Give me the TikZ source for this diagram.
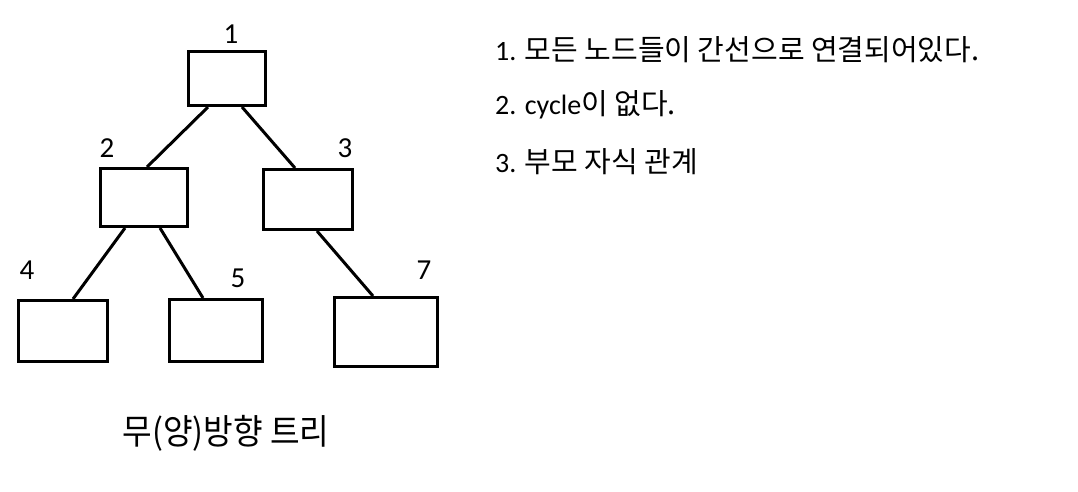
\documentclass[tikz,border=0pt]{standalone}
\usepackage{fontspec}
\setmainfont{Carlito}
\newfontfamily\kr{Noto Sans CJK KR}
\newfontfamily\krcap[FakeStretch=0.92]{Noto Sans CJK KR}
\begin{document}
\begin{tikzpicture}[x=1pt,y=-1pt,
		box/.style={draw,rectangle,line width=3pt,inner sep=0pt},
		edge/.style={line width=3pt},
		num/.style={inner sep=0pt,font=\fontsize{29}{31}\selectfont},
		rule/.style={anchor=base west,inner sep=0pt,font=\fontsize{28}{30}\selectfont}]
		
		\useasboundingbox (0,0) rectangle (1078,491);
		
		% boxes
		\node[box, minimum width=77pt, minimum height=54pt] (n1) at (227,78.5) {};
		\node[box, minimum width=87pt, minimum height=58pt] (n2) at (144,197.5) {};
		\node[box, minimum width=89pt, minimum height=60pt] (n3) at (308,199.5) {};
		\node[box, minimum width=89pt, minimum height=61pt] (n4) at (63,331) {};
		\node[box, minimum width=93pt, minimum height=62pt] (n5) at (216,330.5) {};
		\node[box, minimum width=103pt, minimum height=69pt] (n7) at (386,332) {};
		
		% edges
		\draw[edge] ([xshift=-19pt]n1.south) -- ([xshift=3pt]n2.north);
		\draw[edge] ([xshift=15pt]n1.south) -- ([xshift=-13pt]n3.north);
		\draw[edge] ([xshift=-19pt]n2.south) -- ([xshift=10pt]n4.north);
		\draw[edge] ([xshift=16pt]n2.south) -- ([xshift=-13pt]n5.north);
		\draw[edge] ([xshift=9pt]n3.south) -- ([xshift=-13pt]n7.north);
		
		% numbers
		\node[num] (l1) at (231,34) {1};
		\node[num] (l2) at (107,148) {2};
		\node[num] (l3) at (345,148) {3};
		\node[num] (l4) at (27,270) {4};
		\node[num] (l5) at (238,278) {5};
		\node[num] (l7) at (424,270) {7};
		
		% text
		\node[rule] (r1) at (495,60) {1. {\kr\fontsize{29}{31}\selectfont 모든 노드들이 간선으로 연결되어있다.}};
		\node[rule] (r2) at (495,114) {2. cycle{\kr\fontsize{29}{31}\selectfont 이 없다.}};
		\node[rule] (r3) at (495,172) {3. {\kr\fontsize{29}{31}\selectfont 부모 자식 관계}};
		
		\node[anchor=base, inner sep=0pt, font=\krcap\fontsize{35}{37}\selectfont] (cap) at (226,444) {무(양)방향 트리};
		
	\end{tikzpicture}
\end{document}
